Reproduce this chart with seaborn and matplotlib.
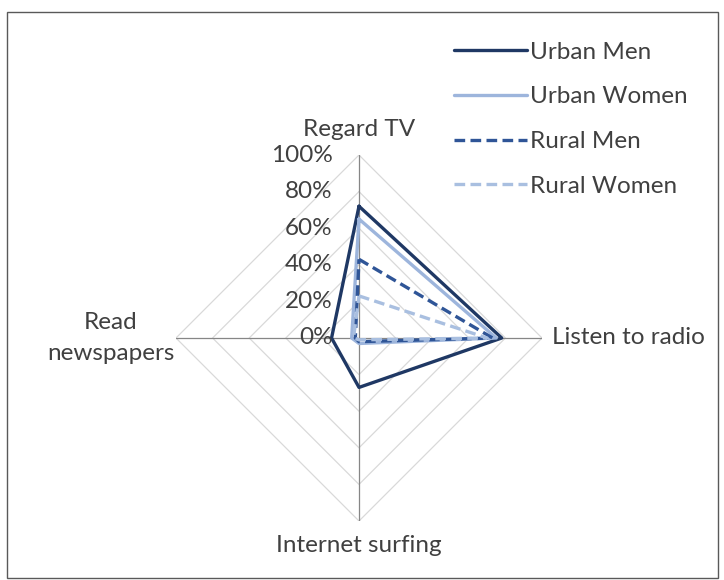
import numpy as np
import pandas as pd
import matplotlib
matplotlib.use("Agg")
import matplotlib.pyplot as plt
from matplotlib.lines import Line2D
from matplotlib.patches import Rectangle
import seaborn as sns

categories = ["Regard TV", "Listen to radio", "Internet surfing", "Read\nnewspapers"]
groups = ["Urban Men", "Urban Women", "Rural Men", "Rural Women"]
urban_men = [72, 78, 27, 15]
urban_women = [65, 75, 3, 4]
rural_men = [43, 73, 2, 2]
rural_women = [23, 70, 1, 3]
rticks = [0, 20, 40, 60, 80, 100]

colors = {"Urban Men": "#1f3864", "Urban Women": "#9db5dc",
          "Rural Men": "#2f5597", "Rural Women": "#a9bfe0"}
dashes = {"Urban Men": "", "Urban Women": "", "Rural Men": (3.2, 1.6), "Rural Women": (3.2, 1.6)}

sns.set_style("white")
plt.rcParams["font.family"] = ["Lato", "DejaVu Sans"]
text_color = "#404040"
fs = 17.5

# long table, loop closed by repeating the first category
theta = np.arange(len(categories)) * np.pi / 2
rows = []
for g, vals in zip(groups, [urban_men, urban_women, rural_men, rural_women]):
    for t, v in zip(list(theta) + [2 * np.pi], vals + vals[:1]):
        rows.append({"group": g, "theta": t, "value": v / 100})
df = pd.DataFrame(rows)

fig = plt.figure(figsize=(7.24, 5.8), dpi=100)
fig.patches.append(Rectangle((7 / 724, 2 / 580), 711 / 724, 566 / 580,
                             transform=fig.transFigure, fill=False,
                             edgecolor="#595959", linewidth=1))

ax = fig.add_axes([176 / 724, 59 / 580, 366 / 724, 366 / 580], projection="polar")
ax.set_theta_offset(np.pi / 2)
ax.set_theta_direction(-1)
ax.set_ylim(0, 1)
ax.grid(False)
ax.spines["polar"].set_visible(False)
ax.set_xticks([])
ax.set_yticks([])
ax.patch.set_alpha(0)

# diamond grid rings and spokes
ring_theta = list(theta) + [2 * np.pi]
for r in rticks[1:]:
    ax.plot(ring_theta, [r / 100] * 5, color="#d9d9d9", lw=0.9, zorder=1)
for t in theta:
    ax.plot([t, t], [0, 1], color="#868686", lw=0.9, zorder=2)

sns.lineplot(data=df, x="theta", y="value", hue="group", style="group",
             hue_order=groups, style_order=groups, palette=colors,
             dashes=dashes, sort=False, estimator=None, linewidth=2.4,
             legend=False, ax=ax, zorder=3)
ax.set_xlabel("")
ax.set_ylabel("")

for r in rticks:
    ax.annotate(f"{r}%", xy=(0, r / 100), xytext=(-19, 0), textcoords="offset points",
                ha="right", va="center", fontsize=fs, color=text_color)

offsets = [((0, 18.5), "center", "center"), ((7, 0), "left", "center"),
           ((0, -18), "center", "center"), ((-47, 0), "center", "center")]
for t, lab, (off, ha, va) in zip(theta, categories, offsets):
    ax.annotate(lab, xy=(t, 1), xytext=off, textcoords="offset points",
                ha=ha, va=va, fontsize=fs, color=text_color, linespacing=1.6)

handles = [Line2D([], [], color=colors[g], lw=2.4,
                  linestyle="-" if dashes[g] == "" else (0, dashes[g])) for g in groups]
leg = fig.legend(handles, groups, loc="upper left", bbox_to_anchor=(432 / 724, 1 - 20 / 580),
                 frameon=False, fontsize=fs, handlelength=3.0, handletextpad=0.12,
                 labelspacing=0.97, labelcolor=text_color)

fig.savefig("out.png", dpi=100)
